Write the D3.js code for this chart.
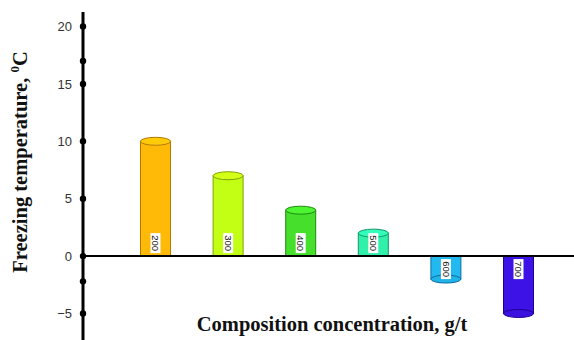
<!DOCTYPE html>
<html><head><meta charset="utf-8">
<script src="https://cdn.jsdelivr.net/npm/d3@7"></script>
<style>body{margin:0;background:#fff}</style>
</head><body><svg id="c" width="574" height="340"></svg>
<script>
const categories = ["200","300","400","500","600","700"];
const values = [10, 7, 4, 2, -2, -5];
const colors = ["#FFBA08","#C2FF14","#46E02C","#30F0AA","#22B8F0","#3C12E6"];
const strokes = ["#B07A00","#7FA300","#1F8A10","#12966A","#0C6EA6","#22008F"];
const yTicks = [-5, 0, 5, 10, 15, 20];
const extraDots = [17, -2.2];

const svg = d3.select("#c");
const y = d3.scaleLinear().domain([-5, 20]).range([313.5, 26.5]);
const x = d3.scalePoint().domain(categories).range([119.2, 554.8]).padding(0.5);
const bw = 30, ry = 4;
const axX = 83;

// bars
const g = svg.append("g");
categories.forEach((c, i) => {
  const v = values[i], cx = x(c);
  const y0 = y(0), y1 = y(v);
  const top = Math.min(y0, y1), h = Math.abs(y1 - y0);
  const bg = g.append("g");
  bg.append("rect").attr("x", cx - bw/2).attr("y", top).attr("width", bw).attr("height", h)
    .attr("fill", colors[i]).attr("stroke", strokes[i]).attr("stroke-width", 1);
  const cap = d3.color(colors[i]).brighter(0.25);
  bg.append("ellipse").attr("cx", cx).attr("cy", y1).attr("rx", bw/2).attr("ry", ry)
    .attr("fill", v >= 0 ? cap : d3.color(colors[i]).darker(0.1)).attr("stroke", strokes[i]).attr("stroke-width", 1);
  // label
  const ly = v >= 0 ? y0 - 13 : y0 + 13;
  const lab = bg.append("g").attr("transform", `translate(${cx},${ly}) rotate(90)`);
  lab.append("rect").attr("x", -10).attr("y", -5).attr("width", 20).attr("height", 10).attr("fill", "#fff");
  lab.append("text").attr("text-anchor", "middle").attr("dy", "0.35em")
    .attr("font-family", "Liberation Sans Narrow, Liberation Sans, Arial, sans-serif").attr("font-size", 9.5).attr("fill", "#111").text(c);
});

// zero line
svg.append("line").attr("x1", axX).attr("x2", 574).attr("y1", y(0)).attr("y2", y(0))
  .attr("stroke", "#000").attr("stroke-width", 2);
// y axis line
svg.append("line").attr("x1", axX).attr("x2", axX).attr("y1", 12).attr("y2", 340)
  .attr("stroke", "#000").attr("stroke-width", 3);

const yAxis = d3.axisLeft(y).tickValues(yTicks).tickSize(0).tickPadding(11);
const ya = svg.append("g").attr("transform", `translate(${axX},0)`).call(yAxis);
ya.select(".domain").remove();
ya.selectAll("text").attr("font-family", "Liberation Sans, Arial, sans-serif").attr("font-size", 13).attr("fill", "#333");

svg.selectAll("circle.dot").data(yTicks.concat(extraDots)).join("circle").attr("class", "dot")
  .attr("cx", axX).attr("cy", d => y(d)).attr("r", 3.2).attr("fill", "#000");

// titles
const yt = svg.append("text").attr("transform", "translate(27,162) rotate(-90)")
  .attr("text-anchor", "middle").attr("font-family", "Liberation Serif, Times New Roman, serif")
  .attr("font-weight", "bold").attr("font-size", 20.5).attr("fill", "#111");
yt.append("tspan").text("Freezing temperature, ");
yt.append("tspan").attr("font-size", 13).attr("dy", -8).text("0");
yt.append("tspan").attr("dy", 8).text("C");

svg.append("text").attr("x", 332).attr("y", 331).attr("text-anchor", "middle")
  .attr("font-family", "Liberation Serif, Times New Roman, serif").attr("font-weight", "bold")
  .attr("font-size", 20.5).attr("fill", "#111").text("Composition concentration, g/t");
</script></body></html>
